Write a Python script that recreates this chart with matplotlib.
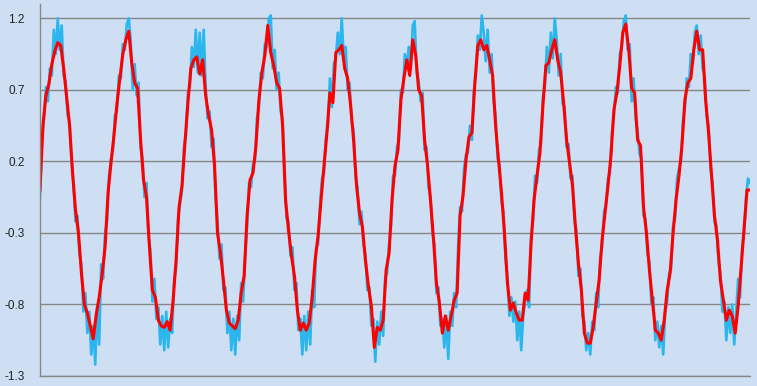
import numpy as np
import matplotlib
matplotlib.use('Agg')
import matplotlib.pyplot as plt

# smoothed signal (red), 24 samples per cycle, 10 cycles + end point
smooth = [
    0.00, 0.45, 0.66, 0.74, 0.88, 0.97, 1.03, 1.01, 0.85, 0.65, 0.45, 0.12,
    -0.14, -0.30, -0.58, -0.80, -0.86, -0.95, -1.04, -0.87, -0.75, -0.59, -0.40, -0.02,
    0.19, 0.38, 0.60, 0.78, 0.95, 1.05, 1.11, 0.89, 0.75, 0.71, 0.35, 0.07,
    -0.05, -0.40, -0.70, -0.75, -0.91, -0.95, -0.96, -0.92, -0.98, -0.77, -0.49, -0.12,
    0.03, 0.33, 0.61, 0.85, 0.91, 0.93, 0.81, 0.91, 0.66, 0.52, 0.42, 0.17,
    -0.30, -0.44, -0.63, -0.84, -0.93, -0.95, -0.97, -0.91, -0.72, -0.60, -0.18, 0.07,
    0.12, 0.31, 0.63, 0.82, 0.94, 1.15, 0.96, 0.87, 0.75, 0.71, 0.45, -0.07,
    -0.28, -0.46, -0.60, -0.84, -0.98, -0.93, -0.98, -0.93, -0.75, -0.49, -0.32, -0.07,
    0.17, 0.40, 0.68, 0.61, 0.96, 0.98, 1.01, 0.85, 0.78, 0.59, 0.35, 0.03,
    -0.16, -0.26, -0.49, -0.67, -0.81, -1.10, -0.96, -0.98, -0.91, -0.56, -0.44, -0.07,
    0.17, 0.28, 0.63, 0.78, 0.91, 0.80, 1.05, 0.94, 0.70, 0.66, 0.35, 0.17,
    -0.07, -0.34, -0.65, -0.79, -1.00, -0.88, -0.98, -0.88, -0.77, -0.72, -0.18, -0.04,
    0.21, 0.37, 0.40, 0.75, 1.01, 1.05, 0.98, 1.01, 0.91, 0.80, 0.45, 0.21,
    -0.02, -0.30, -0.65, -0.84, -0.79, -0.86, -0.91, -0.91, -0.72, -0.77, -0.37, -0.07,
    0.10, 0.26, 0.59, 0.87, 0.89, 0.98, 1.05, 0.91, 0.82, 0.61, 0.35, 0.19,
    0.03, -0.26, -0.51, -0.70, -1.00, -1.07, -1.07, -0.96, -0.79, -0.63, -0.35, -0.16,
    0.03, 0.24, 0.56, 0.68, 0.87, 1.10, 1.16, 0.98, 0.71, 0.68, 0.35, 0.31,
    -0.12, -0.30, -0.56, -0.77, -0.98, -1.00, -1.05, -0.91, -0.70, -0.58, -0.30, -0.07,
    0.10, 0.31, 0.63, 0.75, 0.78, 0.98, 1.11, 0.98, 0.98, 0.63, 0.40, 0.10,
    -0.18, -0.35, -0.63, -0.77, -0.91, -0.84, -0.88, -1.00, -0.81, -0.54, -0.26, 0.00,
    0.00,
]

# raw noisy signal (cyan), 36 samples per cycle + end point
noisy = [
    -0.05, 0.35, 0.50, 0.72, 0.62, 0.85, 0.80, 1.12, 0.95, 1.20, 0.98, 1.15,
    0.80, 0.76, 0.52, 0.48, 0.20, 0.05, -0.22, -0.18, -0.45, -0.52, -0.85, -0.72,
    -1.00, -0.85, -1.15, -0.95, -1.22, -0.82, -1.08, -0.52, -0.62, -0.30, -0.22, 0.10,
    0.22, 0.28, 0.52, 0.55, 0.80, 0.78, 1.02, 0.98, 1.16, 1.20, 1.05, 0.70,
    0.88, 0.66, 0.75, 0.30, 0.22, -0.05, 0.05, -0.32, -0.42, -0.78, -0.62, -0.90,
    -0.82, -1.08, -0.88, -1.12, -0.85, -1.10, -0.90, -1.00, -0.62, -0.55, -0.20, -0.10,
    0.00, 0.30, 0.38, 0.68, 0.72, 1.00, 0.86, 1.12, 0.82, 1.10, 0.80, 1.12,
    0.72, 0.50, 0.55, 0.30, 0.36, -0.05, -0.22, -0.48, -0.38, -0.70, -0.68, -1.00,
    -0.85, -1.12, -0.90, -1.15, -0.88, -1.05, -0.65, -0.78, -0.48, -0.25, 0.05, 0.02,
    0.18, 0.20, 0.50, 0.58, 0.82, 0.78, 1.02, 1.00, 1.20, 1.22, 0.85, 0.98,
    0.70, 0.82, 0.55, 0.50, 0.15, -0.20, -0.22, -0.46, -0.40, -0.70, -0.65, -0.98,
    -0.90, -1.15, -0.88, -1.12, -0.85, -1.08, -0.70, -0.82, -0.40, -0.38, -0.10, 0.08,
    0.12, 0.38, 0.45, 0.78, 0.58, 0.88, 0.92, 1.10, 0.95, 1.20, 0.92, 1.00,
    0.70, 0.75, 0.48, 0.42, 0.10, 0.02, -0.24, -0.15, -0.38, -0.45, -0.70, -0.68,
    -0.95, -0.90, -1.20, -0.92, -1.08, -0.85, -1.02, -0.62, -0.58, -0.38, -0.25, 0.10,
    0.10, 0.30, 0.35, 0.70, 0.68, 0.95, 0.85, 1.00, 0.85, 1.15, 1.18, 0.82,
    0.76, 0.62, 0.68, 0.28, 0.30, 0.02, -0.05, -0.30, -0.38, -0.72, -0.68, -0.95,
    -0.90, -1.10, -0.88, -1.18, -0.85, -0.95, -0.72, -0.82, -0.40, -0.12, -0.15, 0.15,
    0.25, 0.26, 0.45, 0.35, 0.70, 0.80, 1.08, 0.98, 1.22, 1.10, 0.90, 1.12,
    0.82, 0.95, 0.62, 0.52, 0.22, 0.18, -0.08, -0.15, -0.48, -0.60, -0.88, -0.75,
    -0.92, -0.78, -1.05, -0.85, -1.12, -0.88, -0.78, -0.70, -0.82, -0.32, -0.22, 0.10,
    0.05, 0.28, 0.32, 0.65, 0.72, 1.00, 0.82, 1.10, 0.92, 1.20, 1.05, 0.80,
    0.95, 0.60, 0.58, 0.30, 0.32, 0.08, 0.10, -0.22, -0.28, -0.60, -0.55, -0.88,
    -0.92, -1.12, -1.00, -1.15, -0.92, -0.98, -0.72, -0.82, -0.48, -0.40, -0.15, -0.10,
    0.08, 0.12, 0.40, 0.52, 0.72, 0.68, 0.95, 1.00, 1.18, 1.22, 0.98, 1.02,
    0.62, 0.78, 0.50, 0.42, 0.25, 0.22, -0.18, -0.20, -0.45, -0.50, -0.80, -0.75,
    -1.05, -0.92, -1.10, -0.95, -1.15, -0.85, -0.78, -0.58, -0.55, -0.25, -0.20, 0.08,
    0.15, 0.20, 0.48, 0.58, 0.78, 0.72, 0.95, 0.88, 1.10, 1.15, 0.95, 1.08,
    0.85, 0.80, 0.52, 0.45, 0.15, 0.05, -0.22, -0.25, -0.50, -0.58, -0.85, -0.78,
    -1.05, -0.82, -1.00, -0.80, -1.08, -0.85, -0.62, -0.75, -0.40, -0.30, -0.05, 0.08,
    0.05,
]

yticks = [-1.3, -0.8, -0.3, 0.2, 0.7, 1.2]

bg = '#cedff4'
grid_col = '#868686'

fig = plt.figure(figsize=(7.57, 3.86), dpi=100, facecolor=bg)
ax = fig.add_axes([40 / 757, 10 / 386, 710 / 757, 372 / 386], facecolor=bg)

x_noisy = np.linspace(0, len(smooth) - 1, len(noisy))
x_smooth = np.arange(len(smooth))

ax.plot(x_noisy, noisy, color='#2cb6ee', lw=1.9, solid_joinstyle='round')
ax.plot(x_smooth, smooth, color='#ff0000', lw=2.2, solid_joinstyle='round')

ax.set_xlim(0, len(smooth) - 1)
ax.set_ylim(-1.3, 1.3)
ax.set_yticks(yticks)
ax.set_yticklabels([f'{v:.1f}' for v in yticks], fontfamily='Liberation Sans',
                   fontsize=8.5, color='#222222')
ax.set_xticks([])
ax.tick_params(axis='y', length=0, pad=11)
ax.yaxis.grid(True, color=grid_col, lw=1.0)
ax.set_axisbelow(True)

for s in ['top', 'right']:
    ax.spines[s].set_visible(False)
for s in ['left', 'bottom']:
    ax.spines[s].set_color(grid_col)
    ax.spines[s].set_linewidth(1.0)

fig.savefig('out.png', dpi=100, facecolor=bg)
